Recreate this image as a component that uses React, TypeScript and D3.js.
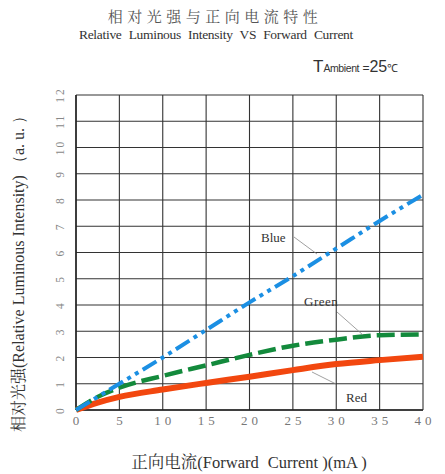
import React from "react";
import * as d3 from "d3";

const currents = [0, 2.5, 5, 10, 15, 20, 25, 30, 35, 40];
const blue = [0, 0.5, 1.0, 2.0, 3.05, 4.1, 5.1, 6.15, 7.2, 8.2];
const green = [0, 0.5, 0.85, 1.3, 1.7, 2.1, 2.45, 2.68, 2.85, 2.88];
const red = [0, 0.28, 0.5, 0.78, 1.03, 1.27, 1.52, 1.75, 1.9, 2.03];
const xTicks = [0, 5, 10, 15, 20, 25, 30, 35, 40];
const yTicks = [0, 1, 2, 3, 4, 5, 6, 7, 8, 9, 10, 11, 12];

const W = 445;
const H = 474;
const serif = "Liberation Serif";
const cjk = "Noto Serif CJK SC";
const sans = "Liberation Sans";

export default function App() {
  const x = d3.scaleLinear().domain([0, 40]).range([76, 423]);
  const y = d3.scaleLinear().domain([0, 12]).range([410, 95]);
  const line = (vals: number[]) =>
    d3
      .line<number>()
      .x((_, i) => x(currents[i]))
      .y((d) => y(d))
      .curve(d3.curveMonotoneX)(vals) || "";

  return (
    <svg width={W} height={H} style={{ position: "absolute", left: 0, top: 0, background: "#fff" }}>
      <text x={215} y={22} textAnchor="middle" style={{ fontFamily: cjk }} fontSize={15} fill="#555" letterSpacing={4.5}>
        相对光强与正向电流特性
      </text>
      <text x={216} y={38.5} textAnchor="middle" style={{ fontFamily: serif }} fontSize={13.5} fill="#333" letterSpacing={-0.3} wordSpacing={4}>
        Relative Luminous Intensity VS Forward Current
      </text>
      <text x={313} y={72} style={{ fontFamily: sans }} fill="#333">
        <tspan fontSize={17}>T</tspan>
        <tspan fontSize={10.5} letterSpacing={-0.4}>Ambient</tspan>
        <tspan fontSize={12}> =</tspan>
        <tspan fontSize={16}>25</tspan>
        <tspan fontSize={11}>℃</tspan>
      </text>

      {/* grid */}
      {xTicks.map((t) => (
        <line key={"gx" + t} x1={x(t)} x2={x(t)} y1={y(12)} y2={y(0)} stroke="#333" strokeWidth={1.1} />
      ))}
      {yTicks.map((t) => (
        <line key={"gy" + t} x1={x(0)} x2={x(40)} y1={y(t)} y2={y(t)} stroke="#333" strokeWidth={1.1} />
      ))}
      <line x1={x(0)} x2={x(0)} y1={y(12)} y2={y(0)} stroke="#222" strokeWidth={1.5} />
      <line x1={x(0)} x2={x(40)} y1={y(0)} y2={y(0)} stroke="#222" strokeWidth={1.5} />

      {/* y tick labels rotated */}
      {yTicks.map((t) => (
        <text
          key={"yl" + t}
          transform={`translate(64,${y(t)}) rotate(-90)`}
          textAnchor="middle"
          style={{ fontFamily: serif }}
          fontSize={11.5}
          fill="#888"
          letterSpacing={2}
        >
          {t}
        </text>
      ))}
      {/* x tick labels */}
      {xTicks.map((t) => (
        <text
          key={"xl" + t}
          x={x(t) + 2}
          y={425}
          textAnchor="middle"
          style={{ fontFamily: serif }}
          fontSize={13}
          fill="#777"
          letterSpacing={4}
        >
          {t}
        </text>
      ))}

      {/* curves */}
      <path d={line(red)} fill="none" stroke="#f2470f" strokeWidth={6} />
      <path d={line(green)} fill="none" stroke="#138a3c" strokeWidth={4.5} strokeDasharray="18 6" />
      <path d={line(blue)} fill="none" stroke="#1b8fe3" strokeWidth={4} strokeDasharray="16 5 4 5 4 5" />

      {/* labels */}
      <text x={261} y={242} style={{ fontFamily: serif }} fontSize={13} fill="#333">Blue</text>
      <line x1={294} y1={237} x2={317} y2={254} stroke="#888" strokeWidth={0.8} />
      <text x={304} y={306} style={{ fontFamily: serif }} fontSize={13} fill="#333" letterSpacing={0.5}>Green</text>
      <line x1={337} y1={312} x2={363} y2={335} stroke="#888" strokeWidth={0.8} />
      <text x={346} y={402} style={{ fontFamily: serif }} fontSize={13} fill="#333">Red</text>
      <line x1={312} y1={372} x2={336} y2={384} stroke="#888" strokeWidth={0.8} />

      {/* axis titles */}
      <text x={249} y={468} textAnchor="middle" style={{ fontFamily: serif }} fontSize={16.5} fill="#333">
        <tspan style={{ fontFamily: cjk }}>正向电流</tspan>
        <tspan>(Forward</tspan>
        <tspan dx={9}>Current )(mA )</tspan>
      </text>
      <text
        transform="translate(24,270) rotate(-90)"
        textAnchor="middle"
        style={{ fontFamily: serif }}
        fontSize={16}
        fill="#333"
      >
        <tspan style={{ fontFamily: cjk }}>相对光强</tspan>
        <tspan>(Relative Luminous Intensity) （a. u. ）</tspan>
      </text>
    </svg>
  );
}
